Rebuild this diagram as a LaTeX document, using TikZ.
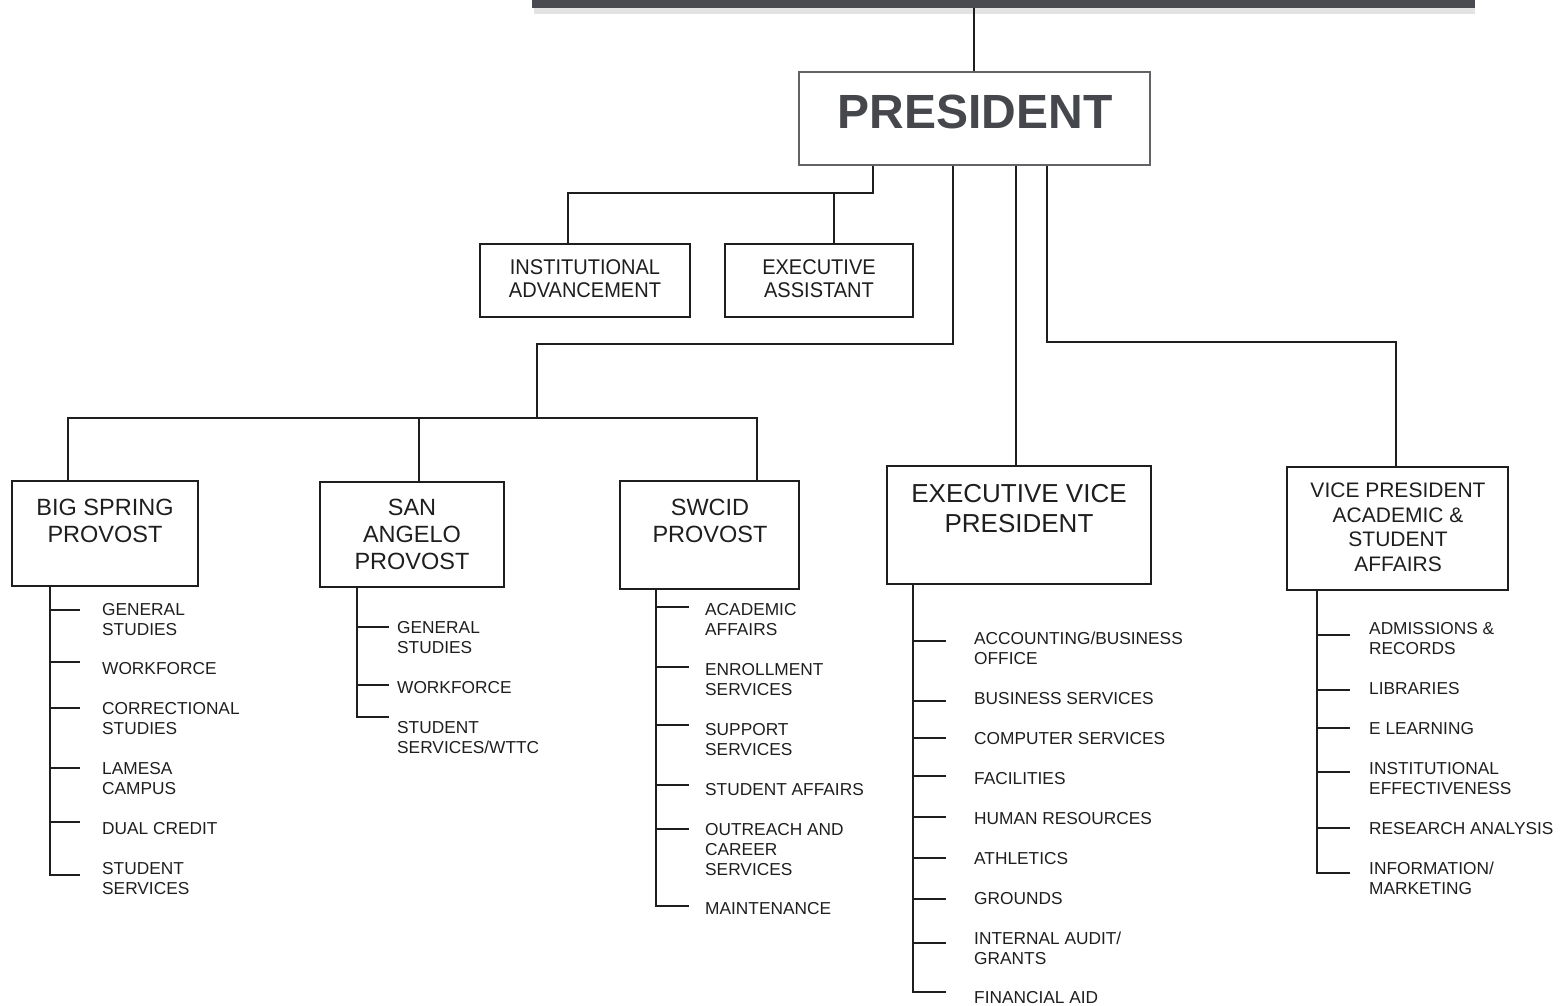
\documentclass[tikz,border=0pt]{standalone}
\usepackage{fontspec}
\setmainfont{Liberation Sans}
\newfontfamily\narrowsans[FakeStretch=0.94]{Liberation Sans}
\definecolor{ink}{HTML}{1E1E1E}
\definecolor{barcol}{HTML}{4A4B50}
\definecolor{prescol}{HTML}{45474C}
\tikzset{
  box/.style={draw=ink, line width=1.4pt, inner sep=0pt, fill=white, anchor=center},
  conn/.style={draw=ink, line width=1.3pt},
  tickline/.style={draw=ink, line width=1.3pt},
  itemtxt/.style={anchor=north west, inner sep=0pt, align=left, text=ink, font=\fontsize{17.3}{20}\selectfont},
  boxtxt/.style={anchor=north, inner sep=0pt, align=center, text=ink},
}
\newcommand\itm[4]{\node[itemtxt] (#1) at (#2,#3-7.8) {\rule{0pt}{14pt}#4};}
\begin{document}
\begin{tikzpicture}[x=1pt,y=-1pt]
\useasboundingbox (0,0) rectangle (1564,1006);
% top bar
\fill[gray!22] (534,8) rectangle (1475,14);
\node[fill=barcol, inner sep=0pt, minimum width=943pt, minimum height=8pt] (board) at (1003.5,4) {};
% president
\node[box, draw=prescol!85, minimum width=351pt, minimum height=93pt] (pres) at (974.5,118.5) {};
\node[inner sep=0pt, text=prescol, font=\bfseries\fontsize{48}{50}\selectfont] (prest) at (975,112) {PRESIDENT};
\draw[conn] (board.south -| 974,0) -- (pres.north -| 974,0);
% second level boxes
\node[box, minimum width=210pt, minimum height=73pt] (ia) at (585,280.5) {};
\node[boxtxt, font=\narrowsans\fontsize{21.3}{23}\selectfont] (iat) at (585,255.4) {\rule{0pt}{18.9pt}INSTITUTIONAL\\ADVANCEMENT};
\node[box, minimum width=188pt, minimum height=73pt] (ea) at (819,280.5) {};
\node[boxtxt, font=\narrowsans\fontsize{21.3}{23}\selectfont] (eat) at (819,255.4) {\rule{0pt}{18.9pt}EXECUTIVE\\ASSISTANT};
% provost boxes
\node[box, minimum width=186pt, minimum height=105pt] (bs) at (105,533.5) {};
\node[boxtxt, font=\fontsize{23.5}{26.5}\selectfont] (bst) at (105,494.3) {\rule{0pt}{21pt}BIG SPRING\\PROVOST};
\node[box, minimum width=184pt, minimum height=105pt] (sa) at (412,534.5) {};
\node[boxtxt, font=\fontsize{23.5}{27}\selectfont] (sat) at (412,494.3) {\rule{0pt}{21pt}SAN\\ANGELO\\PROVOST};
\node[box, minimum width=179pt, minimum height=108pt] (sw) at (709.5,535) {};
\node[boxtxt, font=\fontsize{23.5}{27}\selectfont] (swt) at (710,494.3) {\rule{0pt}{21pt}SWCID\\PROVOST};
\node[box, minimum width=264pt, minimum height=118pt] (evp) at (1019,525) {};
\node[boxtxt, font=\fontsize{26}{30}\selectfont] (evpt) at (1019,478.9) {\rule{0pt}{23.4pt}EXECUTIVE VICE\\PRESIDENT};
\node[box, minimum width=221pt, minimum height=123pt] (vp) at (1397.5,528.5) {};
\node[boxtxt, font=\fontsize{21}{24.5}\selectfont] (vpt) at (1398,478.6) {\rule{0pt}{18.9pt}VICE PRESIDENT\\ACADEMIC \&\\STUDENT\\AFFAIRS};
% connectors from president
\coordinate (j1) at (873,193);
\coordinate (ialn) at (568,0);
\draw[conn] (pres.south -| j1) -- (j1) -| (ia.north -| ialn);
\coordinate (j2) at (834,193);
\draw[conn] (j2) -- (ea.north -| j2);
\coordinate (j3) at (953,344);
\coordinate (j4) at (537,418);
\draw[conn] (pres.south -| j3) -- (j3) -| (j4);
\coordinate (bsx) at (68,418);
\coordinate (sax) at (419,418);
\coordinate (swx) at (757,418);
\draw[conn] (bs.north -| bsx) -- (bsx) -- (swx) -- (sw.north -| swx);
\draw[conn] (sax) -- (sa.north -| sax);
\coordinate (evx) at (1016,0);
\draw[conn] (pres.south -| evx) -- (evp.north -| evx);
\coordinate (j5) at (1047,342);
\coordinate (vpx) at (1396,0);
\draw[conn] (pres.south -| j5) -- (j5) -| (vp.north -| vpx);
% Big Spring items
\foreach \y [count=\i] in {610,662,708,768,822,875} \coordinate (bsk\i) at (50,\y);
\draw[conn] (bs.south -| bsk1) -- (bsk6) -- ++(30,0);
\foreach \i in {1,...,5} \draw[tickline] (bsk\i) -- ++(30,0);
\itm{bs1}{102}{609}{GENERAL\\STUDIES}
\itm{bs2}{102}{668}{WORKFORCE}
\itm{bs3}{102}{708}{CORRECTIONAL\\STUDIES}
\itm{bs4}{102}{768}{LAMESA\\CAMPUS}
\itm{bs5}{102}{828}{DUAL CREDIT}
\itm{bs6}{102}{868}{STUDENT\\SERVICES}
% San Angelo items
\foreach \y [count=\i] in {627,685,717} \coordinate (sak\i) at (357,\y);
\draw[conn] (sa.south -| sak1) -- (sak3) -- ++(32,0);
\foreach \i in {1,2} \draw[tickline] (sak\i) -- ++(32,0);
\itm{sa1}{397}{627}{GENERAL\\STUDIES}
\itm{sa2}{397}{687}{WORKFORCE}
\itm{sa3}{397}{727}{STUDENT\\SERVICES/WTTC}
% SWCID items
\foreach \y [count=\i] in {607,667,725,785,829,906} \coordinate (swk\i) at (656,\y);
\draw[conn] (sw.south -| swk1) -- (swk6) -- ++(33,0);
\foreach \i in {1,...,5} \draw[tickline] (swk\i) -- ++(33,0);
\itm{sw1}{705}{609.5}{ACADEMIC\\AFFAIRS}
\itm{sw2}{705}{669.5}{ENROLLMENT\\SERVICES}
\itm{sw3}{705}{729.5}{SUPPORT\\SERVICES}
\itm{sw4}{705}{789}{STUDENT AFFAIRS}
\itm{sw5}{705}{829}{OUTREACH AND\\CAREER\\SERVICES}
\itm{sw6}{705}{908.5}{MAINTENANCE}
% EVP items
\foreach \y [count=\i] in {641,701,738,776,817,858,899,943,992} \coordinate (evk\i) at (913,\y);
\draw[conn] (evp.south -| evk1) -- (evk9) -- ++(33,0);
\foreach \i in {1,...,8} \draw[tickline] (evk\i) -- ++(33,0);
\itm{ev1}{974}{638}{ACCOUNTING/BUSINESS\\OFFICE}
\itm{ev2}{974}{698}{BUSINESS SERVICES}
\itm{ev3}{974}{738}{COMPUTER SERVICES}
\itm{ev4}{974}{778}{FACILITIES}
\itm{ev5}{974}{818}{HUMAN RESOURCES}
\itm{ev6}{974}{858}{ATHLETICS}
\itm{ev7}{974}{898}{GROUNDS}
\itm{ev8}{974}{938}{INTERNAL AUDIT/\\GRANTS}
\itm{ev9}{974}{997}{FINANCIAL AID}
% VP items
\foreach \y [count=\i] in {635,690,728,772,828,873} \coordinate (vpk\i) at (1317,\y);
\draw[conn] (vp.south -| vpk1) -- (vpk6) -- ++(33,0);
\foreach \i in {1,...,5} \draw[tickline] (vpk\i) -- ++(33,0);
\itm{vp1}{1369}{628}{ADMISSIONS \&\\RECORDS}
\itm{vp2}{1369}{688}{LIBRARIES}
\itm{vp3}{1369}{728}{E LEARNING}
\itm{vp4}{1369}{768}{INSTITUTIONAL\\EFFECTIVENESS}
\itm{vp5}{1369}{828}{RESEARCH ANALYSIS}
\itm{vp6}{1369}{868}{INFORMATION/\\MARKETING}
\end{tikzpicture}
\end{document}
